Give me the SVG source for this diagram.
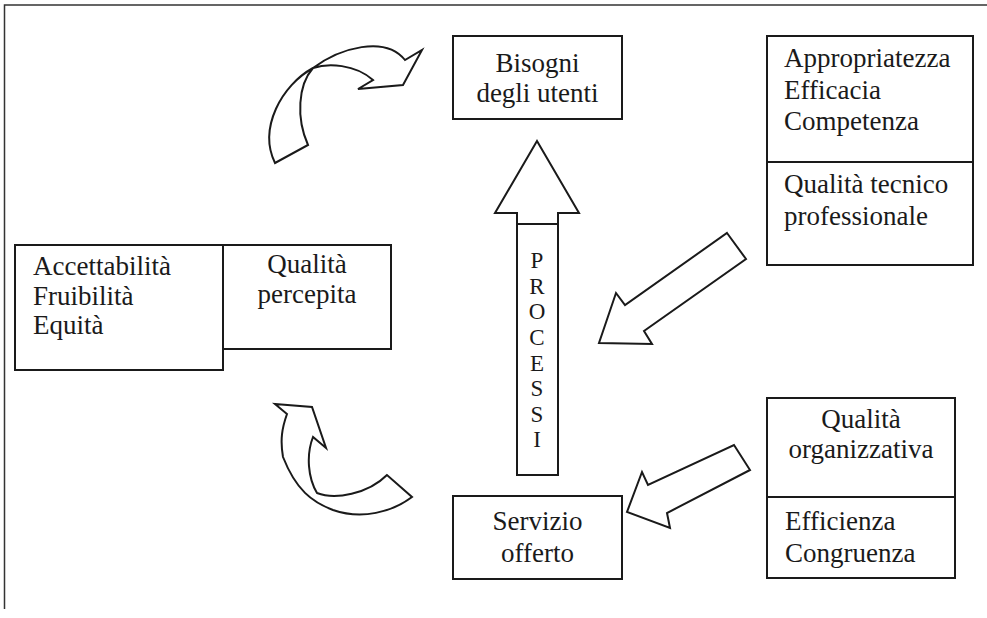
<svg xmlns="http://www.w3.org/2000/svg" width="987" height="618" viewBox="0 0 987 618">
<style>
.box{fill:#fff;stroke:#1a1a1a;stroke-width:2}
.arr{fill:#fff;stroke:#1a1a1a;stroke-width:2;stroke-linejoin:miter}
.t{font-family:"Liberation Serif","Times New Roman",serif;font-size:27px;fill:#1a1a1a}
.c{text-anchor:middle}
.v{font-family:"Liberation Serif","Times New Roman",serif;font-size:23px;fill:#1a1a1a;text-anchor:middle}
</style>
<rect width="987" height="618" fill="#fff"/>
<g id="frame"><path d="M987,5 H4.5 V609" fill="none" stroke="#333" stroke-width="1.5"/></g>

<g id="connectors">
<path class="arr" d="M275,163 C258,128 282,85 313,68 C340,48 385,35 405,60 L422,50 L403,85 L358,89 L373,80 C355,64 328,63 313,68 C298,85 296,118 308,145 Z"/>
<path class="arr" d="M275,404 L312,407 L326,448 L313,437 C306,455 308,478 317,493 C335,500 368,494 387,475 L412,497 C392,512 362,520 333,510 C312,502 296,490 283,457 C280,440 282,428 287,414 Z"/>
<path class="arr" d="M537,141 L579,213 L558,213 L558,475 L517,475 L517,213 L495,213 Z"/>
<line x1="517" y1="224" x2="558" y2="224" stroke="#1a1a1a" stroke-width="2"/>
<path class="arr" d="M727,233 L746,259 L644,331 L652,344 L599,343 L616,293 L625,305 Z"/>
<path class="arr" d="M734,445 L750,470 L667,513 L670,528 L627,512 L642,472 L648,485 Z"/>
</g>

<g id="processi">
<text class="v" x="537" y="268">P</text>
<text class="v" x="537" y="294">R</text>
<text class="v" x="537" y="319">O</text>
<text class="v" x="537" y="345">C</text>
<text class="v" x="537" y="371">E</text>
<text class="v" x="537" y="396">S</text>
<text class="v" x="537" y="422">S</text>
<text class="v" x="537" y="447">I</text>
</g>

<g id="bisogni">
<rect class="box" x="453" y="36" width="169" height="83"/>
<text class="t c" x="537.5" y="72">Bisogni</text>
<text class="t c" x="537.5" y="102">degli utenti</text>
</g>

<g id="tecnico">
<rect class="box" x="767" y="36" width="206" height="229"/>
<line x1="767" y1="162" x2="973" y2="162" stroke="#1a1a1a" stroke-width="2"/>
<text class="t" x="784" y="67">Appropriatezza</text>
<text class="t" x="784" y="99">Efficacia</text>
<text class="t" x="784" y="130">Competenza</text>
<text class="t" x="784" y="193">Qualità tecnico</text>
<text class="t" x="784" y="225">professionale</text>
</g>

<g id="accettabilita">
<rect class="box" x="15" y="245" width="208" height="125"/>
<text class="t" x="33" y="275">Accettabilità</text>
<text class="t" x="33" y="305">Fruibilità</text>
<text class="t" x="33" y="334">Equità</text>
</g>

<g id="percepita">
<rect class="box" x="223" y="245" width="168" height="104"/>
<text class="t c" x="307" y="273">Qualità</text>
<text class="t c" x="307" y="303">percepita</text>
</g>

<g id="servizio">
<rect class="box" x="453" y="496" width="169" height="83"/>
<text class="t c" x="537.5" y="530">Servizio</text>
<text class="t c" x="537.5" y="562">offerto</text>
</g>

<g id="organizzativa">
<rect class="box" x="767" y="398" width="188" height="180"/>
<line x1="767" y1="497" x2="955" y2="497" stroke="#1a1a1a" stroke-width="2"/>
<text class="t c" x="861" y="428">Qualità</text>
<text class="t c" x="861" y="458">organizzativa</text>
<text class="t" x="785" y="530">Efficienza</text>
<text class="t" x="785" y="562">Congruenza</text>
</g>
</svg>
